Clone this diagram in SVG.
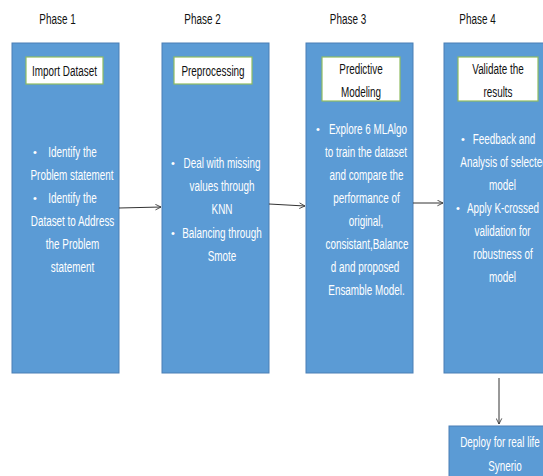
<svg xmlns="http://www.w3.org/2000/svg" width="543" height="476" viewBox="0 0 543 476">
<defs>
<style>
.bg{fill:#ffffff}
.phase-box{fill:#5b9bd5;stroke:#4a7fb5;stroke-width:1}
.title-box{fill:#ffffff;stroke:#8fbc62;stroke-width:1.2}
.t{font-family:"Liberation Sans",Arial,sans-serif;font-size:15px;text-anchor:middle}
.dark{fill:#111111}
.light{fill:#ffffff}
.b{font-family:"Liberation Sans",Arial,sans-serif;font-size:11px;fill:#ffffff;text-anchor:middle}
.conn{stroke:#333333;stroke-width:1;fill:none}
</style>
<marker id="arr" viewBox="0 0 10 10" refX="9" refY="5" markerWidth="7" markerHeight="7" orient="auto" markerUnits="userSpaceOnUse">
<path d="M1,1 L9,5 L1,9" fill="none" stroke="#333333" stroke-width="1.2"/>
</marker>
</defs>
<rect class="bg" x="0" y="0" width="543" height="476"/>

<g id="labels">
<text class="t dark" transform="translate(57.5,24) scale(0.66,1)">Phase 1</text>
<text class="t dark" transform="translate(202.5,24) scale(0.66,1)">Phase 2</text>
<text class="t dark" transform="translate(348,24) scale(0.66,1)">Phase 3</text>
<text class="t dark" transform="translate(477.5,24) scale(0.66,1)">Phase 4</text>
</g>

<g id="phase1">
<rect class="phase-box" x="12" y="43" width="107" height="330"/>
<rect class="title-box" x="26" y="57" width="77" height="27"/>
<text class="t dark" transform="translate(64.5,76) scale(0.66,1)">Import Dataset</text>
<text class="b" x="35" y="156">•</text>
<text class="t light" transform="translate(72.5,157) scale(0.66,1)">Identify the</text>
<text class="t light" transform="translate(72,180) scale(0.66,1)">Problem statement</text>
<text class="b" x="35" y="202">•</text>
<text class="t light" transform="translate(72.5,203) scale(0.66,1)">Identify the</text>
<text class="t light" transform="translate(72.5,226) scale(0.66,1)">Dataset to Address</text>
<text class="t light" transform="translate(72.5,249) scale(0.66,1)">the Problem</text>
<text class="t light" transform="translate(72.5,272) scale(0.66,1)">statement</text>
</g>

<g id="phase2">
<rect class="phase-box" x="162" y="43" width="107" height="330"/>
<rect class="title-box" x="174" y="57" width="78" height="27"/>
<text class="t dark" transform="translate(213,76) scale(0.66,1)">Preprocessing</text>
<text class="b" x="173" y="167">•</text>
<text class="t light" transform="translate(222,168) scale(0.66,1)">Deal with missing</text>
<text class="t light" transform="translate(222,191) scale(0.66,1)">values through</text>
<text class="t light" transform="translate(222,214) scale(0.66,1)">KNN</text>
<text class="b" x="173" y="237">•</text>
<text class="t light" transform="translate(222,238) scale(0.66,1)">Balancing through</text>
<text class="t light" transform="translate(222,261) scale(0.66,1)">Smote</text>
</g>

<g id="phase3">
<rect class="phase-box" x="306" y="43" width="107" height="330"/>
<rect class="title-box" x="322" y="57" width="78" height="44"/>
<text class="t dark" transform="translate(361,74) scale(0.66,1)">Predictive</text>
<text class="t dark" transform="translate(361,97) scale(0.66,1)">Modeling</text>
<text class="b" x="318" y="133">•</text>
<text class="t light" transform="translate(368,134) scale(0.66,1)">Explore 6 MLAlgo</text>
<text class="t light" transform="translate(366,157) scale(0.66,1)">to train the dataset</text>
<text class="t light" transform="translate(366.5,180) scale(0.66,1)">and compare the</text>
<text class="t light" transform="translate(366.5,203) scale(0.66,1)">performance of</text>
<text class="t light" transform="translate(366,226) scale(0.66,1)">original,</text>
<text class="t light" transform="translate(367,249) scale(0.66,1)">consistant,Balance</text>
<text class="t light" transform="translate(365,272) scale(0.66,1)">d and proposed</text>
<text class="t light" transform="translate(366.5,295) scale(0.66,1)">Ensamble Model.</text>
</g>

<g id="phase4">
<rect class="phase-box" x="444" y="43" width="107" height="330"/>
<rect class="title-box" x="458" y="57" width="80" height="44"/>
<text class="t dark" transform="translate(498,74) scale(0.66,1)">Validate the</text>
<text class="t dark" transform="translate(498,97) scale(0.66,1)">results</text>
<text class="b" x="463" y="143">•</text>
<text class="t light" transform="translate(504,144) scale(0.66,1)">Feedback and</text>
<text class="t light" transform="translate(504,167) scale(0.66,1)">Analysis of selected</text>
<text class="t light" transform="translate(502.5,190) scale(0.66,1)">model</text>
<text class="b" x="458" y="212">•</text>
<text class="t light" transform="translate(503,213) scale(0.66,1)">Apply K-crossed</text>
<text class="t light" transform="translate(502.5,236) scale(0.66,1)">validation for</text>
<text class="t light" transform="translate(503,259) scale(0.66,1)">robustness of</text>
<text class="t light" transform="translate(502.5,282) scale(0.66,1)">model</text>
</g>

<g id="deploy">
<rect class="phase-box" x="449" y="426" width="102" height="60"/>
<text class="t light" transform="translate(500,447) scale(0.66,1)">Deploy for  real life</text>
<text class="t light" transform="translate(505,471) scale(0.66,1)">Synerio</text>
</g>

<g id="connectors">
<line class="conn" x1="119" y1="208" x2="161" y2="207" marker-end="url(#arr)"/>
<line class="conn" x1="269" y1="204" x2="305" y2="206" marker-end="url(#arr)"/>
<line class="conn" x1="413" y1="203" x2="443" y2="203" marker-end="url(#arr)"/>
<line class="conn" x1="499" y1="378" x2="499" y2="424" marker-end="url(#arr)"/>
</g>
</svg>
